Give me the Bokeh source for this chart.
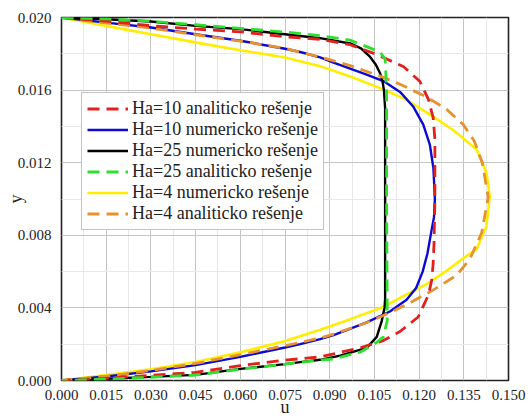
from bokeh.plotting import figure
from bokeh.models import FixedTicker, PrintfTickFormatter, Legend, LegendItem, Range1d
from bokeh.embed import file_html
from bokeh.resources import INLINE

# ---- axis ticks ----
x_ticks = [0.000, 0.015, 0.030, 0.045, 0.060, 0.075, 0.090, 0.105, 0.120, 0.135, 0.150]
x_minor = [0.0075, 0.0225, 0.0375, 0.0525, 0.0675, 0.0825, 0.0975, 0.1125, 0.1275, 0.1425]
y_ticks = [0.000, 0.004, 0.008, 0.012, 0.016, 0.020]
y_minor = [0.002, 0.006, 0.010, 0.014, 0.018]

# ---- series (u, y) ----
u_ha10_an = [0, 0.015, 0.030, 0.045, 0.060, 0.075, 0.0868, 0.0969, 0.1052, 0.1147, 0.1203, 0.1231, 0.1247,
             0.1253, 0.1253, 0.1250, 0.1247, 0.1242, 0.1231, 0.1197, 0.1136, 0.1080, 0.1002, 0.0868, 0.075,
             0.060, 0.045, 0.030, 0.015, 0]
y_ha10_an = [0.0200, 0.0198, 0.01955, 0.01936, 0.01921, 0.01894, 0.0188, 0.0185, 0.0180, 0.0173, 0.01647,
             0.0155, 0.0145, 0.0133, 0.0100, 0.0075, 0.0064, 0.0055, 0.0047, 0.0035, 0.0027, 0.0022, 0.0018,
             0.0013, 0.00112, 0.00082, 0.00045, 0.00028, 0.00012, 0]

u_ha10_num = [0, 0.015, 0.030, 0.045, 0.060, 0.075, 0.0801, 0.0868, 0.0913, 0.1024, 0.1080, 0.1136, 0.1180,
              0.1214, 0.1236, 0.1248, 0.1253, 0.1250, 0.1242, 0.1228, 0.1212, 0.1190, 0.1158, 0.1102, 0.1024,
              0.0913, 0.0868, 0.0801, 0.075, 0.060, 0.045, 0.030, 0.015, 0]
y_ha10_num = [0.0200, 0.01972, 0.01945, 0.01908, 0.01872, 0.01828, 0.0181, 0.0178, 0.01752, 0.01685, 0.0165,
              0.0159, 0.0151, 0.0141, 0.0130, 0.0117, 0.0100, 0.0090, 0.0083, 0.0070, 0.0060, 0.0051,
              0.00445, 0.0038, 0.0032, 0.0025, 0.00228, 0.0020, 0.00182, 0.0013, 0.00085, 0.0005, 0.00022, 0]

u_ha25_num = [0, 0.015, 0.030, 0.045, 0.060, 0.075, 0.0868, 0.0969, 0.1005, 0.1035, 0.1055, 0.1069, 0.1077,
              0.1082, 0.1086, 0.1086, 0.1086, 0.1084, 0.1080, 0.1075, 0.1058, 0.1024, 0.0935, 0.0868, 0.0801,
              0.075, 0.060, 0.045, 0.030, 0.015, 0]
y_ha25_num = [0.0200, 0.0199, 0.01978, 0.01954, 0.01936, 0.01908, 0.01886, 0.01857, 0.0183, 0.01784, 0.0174,
              0.01693, 0.0165, 0.0160, 0.0150, 0.0100, 0.0045, 0.0040, 0.0037, 0.0033, 0.0024, 0.0018, 0.00137,
              0.00114, 0.00101, 0.0009, 0.00064, 0.00031, 0.0002, 0.0001, 0]

u_ha25_an = [0, 0.015, 0.030, 0.045, 0.060, 0.075, 0.0868, 0.0969, 0.1069, 0.1086, 0.1091, 0.1091, 0.1093,
             0.1093, 0.1080, 0.1058, 0.1002, 0.0913, 0.0801, 0.075, 0.060, 0.045, 0.030, 0.015, 0]
y_ha25_an = [0.0200, 0.01992, 0.0198, 0.0196, 0.0194, 0.0192, 0.0190, 0.01875, 0.0181, 0.0177, 0.0160,
             0.0100, 0.0040, 0.0033, 0.0024, 0.0021, 0.00156, 0.00119, 0.0010, 0.0009, 0.00062, 0.0003,
             0.00018, 0.00008, 0]

u_ha4_num = [0, 0.015, 0.030, 0.045, 0.060, 0.075, 0.0868, 0.0969, 0.1086, 0.1158, 0.1247,
             0.1314, 0.1354, 0.1393, 0.1426, 0.1437, 0.1426, 0.1393, 0.1354, 0.1292, 0.1225, 0.1136, 0.1080,
             0.0969, 0.0868, 0.075, 0.060, 0.045, 0.030, 0.015, 0]
y_ha4_num = [0.0200, 0.01954, 0.01908, 0.01863, 0.0182, 0.0178, 0.01732, 0.01675, 0.0160,
             0.01546, 0.01454, 0.0138, 0.01327, 0.01273, 0.01144, 0.01015, 0.0085, 0.00723, 0.0068, 0.00604,
             0.00531, 0.00455, 0.00405, 0.00338, 0.0028, 0.00218, 0.00155, 0.00102, 0.00062, 0.0003, 0]

u_ha4_an = [0, 0.015, 0.030, 0.045, 0.060, 0.075, 0.0868, 0.0969, 0.1080, 0.1136, 0.1225, 0.1292, 0.1348,
            0.1385, 0.1412, 0.1432, 0.1410, 0.1370, 0.1326, 0.1247, 0.1180, 0.1113, 0.1024, 0.0913, 0.0868,
            0.075, 0.060, 0.045, 0.030, 0.015, 0]
y_ha4_an = [0.0200, 0.0197, 0.01942, 0.01905, 0.0187, 0.0183, 0.01782, 0.01735, 0.0167, 0.01632, 0.01562,
            0.01495, 0.0141, 0.0132, 0.0120, 0.0101, 0.00814, 0.00668, 0.0058, 0.00498, 0.00438, 0.00382,
            0.00318, 0.00256, 0.00234, 0.00192, 0.00142, 0.00094, 0.00055, 0.00024, 0]

labels = ["Ha=10 analiticko rešenje", "Ha=10 numericko rešenje", "Ha=25 numericko rešenje",
          "Ha=25 analiticko rešenje", "Ha=4 numericko rešenje", "Ha=4 analiticko rešenje"]

FONT = "Liberation Serif"

p = figure(width=528, height=419, output_backend="svg", toolbar_location=None,
           x_range=Range1d(0, 0.150), y_range=Range1d(0, 0.020),
           min_border_left=61, min_border_right=20, min_border_top=17, min_border_bottom=37)
p.background_fill_color = "white"
p.border_fill_color = "white"
p.outline_line_color = "#222222"
p.outline_line_width = 1.6

p.xaxis.ticker = FixedTicker(ticks=x_ticks, minor_ticks=x_minor)
p.yaxis.ticker = FixedTicker(ticks=y_ticks, minor_ticks=y_minor)
p.xgrid.ticker = FixedTicker(ticks=x_ticks, minor_ticks=x_minor)
p.ygrid.ticker = FixedTicker(ticks=y_ticks, minor_ticks=y_minor)
p.xaxis.formatter = PrintfTickFormatter(format="%.3f")
p.yaxis.formatter = PrintfTickFormatter(format="%.3f")

for g in (p.xgrid, p.ygrid):
    g.grid_line_color = "#c4c4c4"
    g.grid_line_width = 1
    g.minor_grid_line_color = "#e8e8e8"
    g.minor_grid_line_width = 1

for ax in (p.xaxis, p.yaxis):
    ax.axis_line_color = None
    ax.major_tick_line_color = None
    ax.minor_tick_line_color = None
    ax.major_tick_out = 0
    ax.major_tick_in = 0
    ax.major_label_text_font = FONT
    ax.major_label_text_font_size = "15px"
    ax.major_label_text_color = "#222222"
    ax.axis_label_text_font = FONT
    ax.axis_label_text_font_size = "18px"
    ax.axis_label_text_font_style = "normal"
    ax.axis_label_text_color = "#222222"

p.xaxis.axis_label = "u"
p.yaxis.axis_label = "y"
p.xaxis.major_label_standoff = 5
p.xaxis.axis_label_standoff = -6
p.yaxis.major_label_standoff = 6
p.yaxis.axis_label_standoff = -11

DASH = "12 7"
r_y4 = p.line(u_ha4_num, y_ha4_num, line_color="#ffee00", line_width=2.6)
r_b10 = p.line(u_ha10_num, y_ha10_num, line_color="#0a0ad0", line_width=2.4)
r_k25 = p.line(u_ha25_num, y_ha25_num, line_color="#000000", line_width=2.4)
r_o4 = p.line(u_ha4_an, y_ha4_an, line_color="#e8912e", line_width=2.8, line_dash=DASH)
r_r10 = p.line(u_ha10_an, y_ha10_an, line_color="#e32020", line_width=2.8, line_dash=DASH)
r_g25 = p.line(u_ha25_an, y_ha25_an, line_color="#2ee02e", line_width=2.8, line_dash=DASH)

legend = Legend(items=[LegendItem(label=labels[0], renderers=[r_r10]),
                       LegendItem(label=labels[1], renderers=[r_b10]),
                       LegendItem(label=labels[2], renderers=[r_k25]),
                       LegendItem(label=labels[3], renderers=[r_g25]),
                       LegendItem(label=labels[4], renderers=[r_y4]),
                       LegendItem(label=labels[5], renderers=[r_o4])],
                location=(20, 150), label_text_font=FONT, label_text_font_size="18px",
                label_text_color="#222222",
                glyph_width=41, glyph_height=21, label_height=21, label_standoff=4,
                padding=5, spacing=0, margin=0,
                border_line_color="#888888", border_line_width=1,
                background_fill_color="white", background_fill_alpha=1)
p.add_layout(legend, "center")

open("out.html", "w", encoding="utf-8").write(file_html(p, INLINE))
